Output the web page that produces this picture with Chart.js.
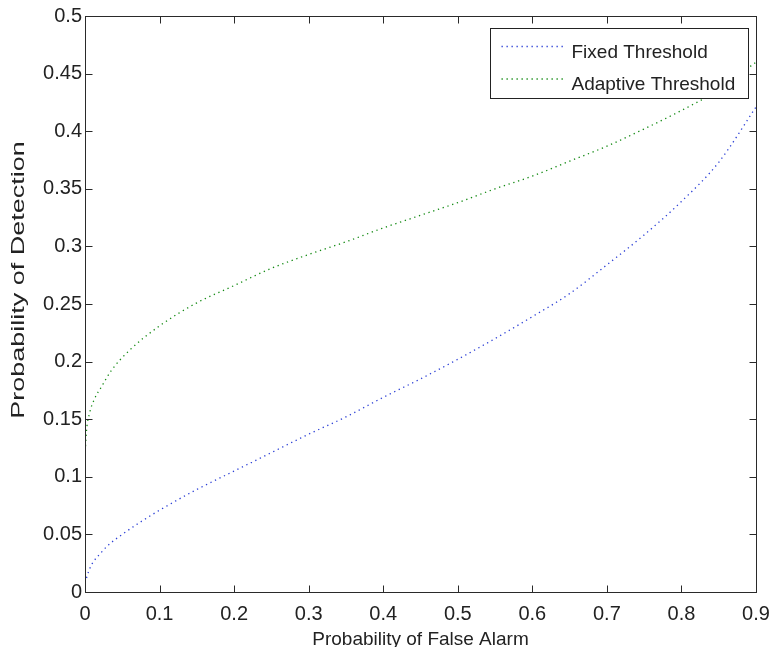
<!DOCTYPE html>
<html>
<head>
<meta charset="utf-8">
<script src="https://cdn.jsdelivr.net/npm/chart.js@4.4.0/dist/chart.umd.min.js"></script>
<style>
html, body { margin: 0; padding: 0; background: #fff; }
canvas { display: block; }
</style>
</head>
<body>
<canvas id="roc" width="772" height="647"></canvas>
<script>
// tick labels
const xTickLabels = ['0', '0.1', '0.2', '0.3', '0.4', '0.5', '0.6', '0.7', '0.8', '0.9'];
const yTickLabels = ['0', '0.05', '0.1', '0.15', '0.2', '0.25', '0.3', '0.35', '0.4', '0.45', '0.5'];

// fixed threshold curve (Pfa, Pd)
const fixedPfa = [0, 0.005, 0.01, 0.02, 0.03, 0.05, 0.075, 0.1, 0.15, 0.2, 0.25, 0.3, 0.35, 0.4, 0.45, 0.5, 0.55, 0.6, 0.65, 0.7, 0.75, 0.8, 0.85, 0.9];
const fixedPd  = [0.008, 0.018, 0.025, 0.033, 0.040, 0.050, 0.061, 0.071, 0.089, 0.105, 0.121, 0.137, 0.152, 0.169, 0.185, 0.202, 0.220, 0.239, 0.259, 0.284, 0.310, 0.339, 0.373, 0.421];

// adaptive threshold curve (Pfa, Pd)
const adaptivePfa = [0, 0.002, 0.006, 0.013, 0.022, 0.035, 0.06, 0.1, 0.15, 0.2, 0.25, 0.3, 0.35, 0.4, 0.45, 0.5, 0.55, 0.6, 0.65, 0.7, 0.75, 0.8, 0.85, 0.9];
const adaptivePd  = [0.118, 0.140, 0.155, 0.168, 0.178, 0.192, 0.210, 0.231, 0.251, 0.266, 0.281, 0.293, 0.304, 0.316, 0.327, 0.338, 0.350, 0.361, 0.374, 0.387, 0.402, 0.418, 0.436, 0.460];

const seriesNames = ['Fixed Threshold', 'Adaptive Threshold'];
const seriesColors = ['#2b3fd6', '#138a13'];

const textColor = '#222';
const fontFamily = '"Liberation Sans", Arial, sans-serif';

function toPoints(xs, ys) {
    return xs.map((x, i) => ({ x: x, y: ys[i] }));
}

function crisp(v) {
    return Math.round(v) + 0.5;
}

// box round the plot with inward ticks on all four sides, like matlab
const framePlugin = {
    id: 'frame',
    afterDatasetsDraw(chart) {
        const { ctx, chartArea: a, scales } = chart;
        const left = crisp(a.left), right = crisp(a.right);
        const top = crisp(a.top), bottom = crisp(a.bottom);
        const tick = 7;
        ctx.save();
        ctx.strokeStyle = '#2a2a2a';
        ctx.lineWidth = 1;
        ctx.strokeRect(left, top, right - left, bottom - top);
        ctx.beginPath();
        scales.x.ticks.forEach(t => {
            const px = crisp(scales.x.getPixelForValue(t.value));
            if (px <= left + 1 || px >= right - 1) return;
            ctx.moveTo(px, bottom); ctx.lineTo(px, bottom - tick);
            ctx.moveTo(px, top); ctx.lineTo(px, top + tick);
        });
        scales.y.ticks.forEach(t => {
            const py = crisp(scales.y.getPixelForValue(t.value));
            if (py <= top + 1 || py >= bottom - 1) return;
            ctx.moveTo(left, py); ctx.lineTo(left + tick, py);
            ctx.moveTo(right, py); ctx.lineTo(right - tick, py);
        });
        ctx.stroke();

        // y axis title, stretched along its length as in the original
        ctx.translate(23.5, 280);
        ctx.rotate(-Math.PI / 2);
        ctx.scale(1.42, 1);
        ctx.fillStyle = textColor;
        ctx.font = '19px ' + fontFamily;
        ctx.textAlign = 'center';
        ctx.textBaseline = 'alphabetic';
        ctx.fillText('Probability of Detection', 0, 0);
        ctx.restore();
    }
};

// legend in a white box at the top right of the plot
const boxLegendPlugin = {
    id: 'boxLegend',
    afterDraw(chart) {
        const { ctx, chartArea: a } = chart;
        const w = 258, h = 70;
        const bx = crisp(a.right - 266), by = crisp(a.top + 12);
        ctx.save();
        ctx.fillStyle = '#fff';
        ctx.fillRect(bx, by, w, h);
        ctx.strokeStyle = '#222';
        ctx.lineWidth = 1;
        ctx.strokeRect(bx, by, w, h);
        chart.data.datasets.forEach((ds, i) => {
            const ly = by + 18 + i * 32.5;
            ctx.beginPath();
            ctx.strokeStyle = ds.borderColor;
            ctx.lineWidth = ds.borderWidth;
            ctx.setLineDash(ds.borderDash);
            ctx.moveTo(bx + 11, ly);
            ctx.lineTo(bx + 75, ly);
            ctx.stroke();
            ctx.setLineDash([]);
            ctx.fillStyle = textColor;
            ctx.font = '19px ' + fontFamily;
            ctx.textAlign = 'left';
            ctx.textBaseline = 'alphabetic';
            ctx.fillText(ds.label, bx + 81, ly + 11);
        });
        ctx.restore();
    }
};

const datasets = [
    toPoints(fixedPfa, fixedPd),
    toPoints(adaptivePfa, adaptivePd)
].map((pts, i) => ({
    label: seriesNames[i],
    data: pts,
    borderColor: seriesColors[i],
    borderWidth: 1.3,
    borderDash: [1.3, 3.7],
    pointRadius: 0,
    fill: false,
    cubicInterpolationMode: 'monotone'
}));

const tickFont = { family: fontFamily, size: 20 };

new Chart(document.getElementById('roc'), {
    type: 'line',
    data: { datasets: datasets },
    plugins: [framePlugin, boxLegendPlugin],
    options: {
        responsive: false,
        animation: false,
        devicePixelRatio: 1,
        layout: { padding: { left: 0, right: 16, top: 16, bottom: 0 } },
        plugins: {
            legend: { display: false },
            tooltip: { enabled: false }
        },
        scales: {
            x: {
                type: 'linear',
                min: 0,
                max: 0.9,
                grid: { display: false, drawTicks: false },
                border: { display: false },
                afterBuildTicks: s => { s.ticks = xTickLabels.map(v => ({ value: parseFloat(v) })); },
                afterFit: s => { s.height = 55; s.paddingLeft = 0; s.paddingRight = 0; },
                ticks: {
                    font: tickFont,
                    color: textColor,
                    padding: 10,
                    maxRotation: 0,
                    callback: (v, i) => xTickLabels[i]
                },
                title: {
                    display: true,
                    text: 'Probability of False Alarm',
                    color: textColor,
                    font: { family: fontFamily, size: 19 },
                    padding: { top: 0, bottom: -4 }
                }
            },
            y: {
                min: 0,
                max: 0.5,
                grid: { display: false, drawTicks: false },
                border: { display: false },
                afterBuildTicks: s => { s.ticks = yTickLabels.map(v => ({ value: parseFloat(v) })); },
                afterFit: s => { s.width = 85; s.paddingTop = 0; s.paddingBottom = 0; },
                ticks: {
                    font: tickFont,
                    color: textColor,
                    padding: 3,
                    callback: (v, i) => yTickLabels[i]
                }
            }
        }
    }
});
</script>
</body>
</html>
